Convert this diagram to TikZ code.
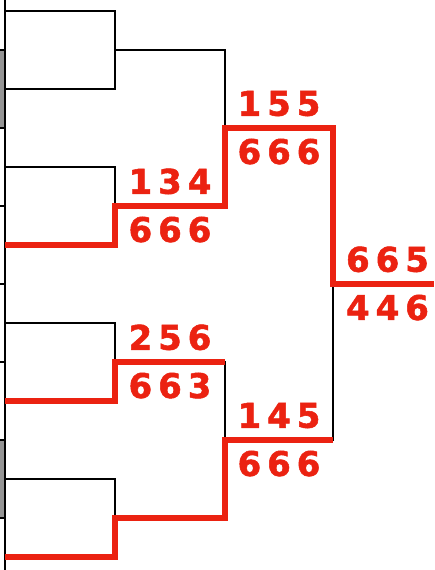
\documentclass[tikz,border=0pt]{standalone}
\usepackage{fontspec}
\newfontfamily\digitfont{DejaVu Sans}[WordSpace=0.5, BoldFeatures={FakeBold=1.5}]
\definecolor{winred}{RGB}{235,34,17}

\begin{document}
\begin{tikzpicture}[x=1pt, y=-1pt,
  lose/.style={draw=black, line width=2.4pt},
  win/.style={draw=winred, line width=5.5pt},
  score/.style={text=winred, inner sep=0pt, font=\digitfont\bfseries\fontsize{34}{34}\selectfont}]
\useasboundingbox (0,0) rectangle (434,570);
% entrants and match points
\foreach \i/\y in {1/11,2/89,3/167,4/245,5/323,6/401,7/479,8/557} \coordinate (p\i) at (5,\y);
\foreach \i/\y in {1/50,2/206,3/362,4/518} \coordinate (a\i) at (115,\y);
\coordinate (b1) at (225,128);
\coordinate (b2) at (225,440);
\coordinate (fin) at (333,284);
\coordinate (top) at (434,284);
% column on the left
\fill[black!42] (0,50) rectangle (5,128) (0,440) rectangle (5,518);
\draw[lose] (5,0) -- (5,570);
\foreach \y in {50,128,...,518} \draw[lose] (0,\y) -- (5,\y);
% brackets
\foreach \p/\q/\m in {p1/p2/a1,p3/p4/a2,p5/p6/a3,p7/p8/a4} \draw[lose] (\p) -| (\m) |- (\q);
\draw[lose] (a1) -| (b1) |- (a2);
\draw[lose] (a3) -| (b2) |- (a4);
\draw[lose] (b1) -| (fin) |- (b2);
% winners
\draw[win] (p4) -| (a2) -- node[score, midway, above=9pt] (w134) {1 3 4} node[score, midway, below=8pt] (l134) {6 6 6} (a2 -| b1)
  -- (b1) -- node[score, midway, above=9pt] (w155) {1 5 5} node[score, midway, below=8pt] (l155) {6 6 6} (b1 -| fin)
  -- (fin) -- node[score, midway, above=9pt, xshift=4pt] (w665) {6 6 5} node[score, midway, below=8pt, xshift=4pt] (l446) {4 4 6} (top);
\draw[win] (p6) -| (a3) -- node[score, midway, above=9pt] (w256) {2 5 6} node[score, midway, below=8pt] (l663) {6 6 3} (a3 -| b2);
\draw[win] (p8) -| (a4) -| (b2) -- node[score, midway, above=9pt] (w145) {1 4 5} node[score, midway, below=8pt] (l666) {6 6 6} (b2 -| fin);
\end{tikzpicture}
\end{document}
